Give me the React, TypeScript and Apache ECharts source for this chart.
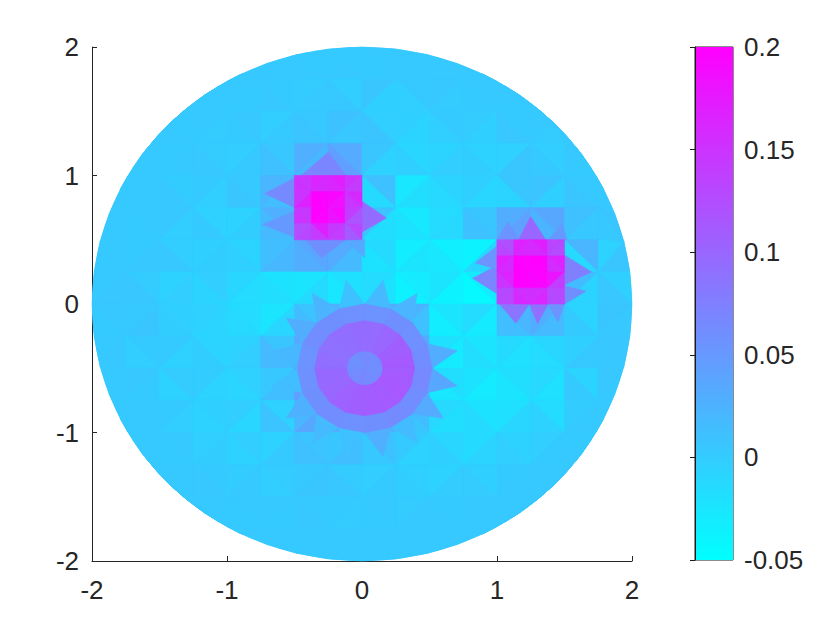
import React, { useEffect, useRef } from "react";
import * as echarts from "echarts";

const axisTicks = [-2, -1, 0, 1, 2];
const colorbarRange = [-0.05, 0.2];
const colorStops = ["#00ffff", "#ff00ff"];
const diskValue = 0.003;

// Coarse mesh: thousandths, two triangles per 0.25 x 0.25 cell, rows from y=2 downwards, cols from x=-2.
const meshRows = [
  [3,3,3,3,3,3,3,3,3,3,3,3,2,3,2,3,3,2,3,3,3,3,3,3,3,3,3,3,3,3,3,3],
  [3,3,3,3,3,3,3,3,3,2,2,4,1,3,-2,4,6,-4,3,-3,4,1,3,2,3,2,3,3,3,3,3,3],
  [3,3,3,3,2,3,3,1,4,2,-2,3,4,7,10,5,-3,7,-4,-8,2,-3,1,-4,2,5,3,1,3,3,3,3],
  [3,3,3,3,2,3,1,4,-2,3,5,12,28,20,32,44,6,-6,-10,-4,-8,-2,-6,-1,-5,6,-2,3,4,2,3,3],
  [3,3,3,3,0,4,2,-3,3,6,22,15,45,45,45,45,12,-14,-26,-18,-8,-12,-4,-10,6,-8,8,-4,3,6,3,3],
  [3,3,3,2,4,-2,-5,2,-6,-1,28,18,45,45,45,45,8,-18,-28,-22,-16,-12,6,10,30,42,36,24,12,4,7,4],
  [3,3,2,4,-2,4,-4,-1,-8,-4,14,20,38,30,32,18,-14,-22,-32,-24,-34,-26,-38,-10,45,45,45,45,22,-12,-6,6],
  [3,5,1,5,-6,-2,-2,-8,-10,-16,-22,-18,-24,-14,-20,-26,-16,-22,-30,-36,-24,-38,-30,-44,45,45,45,45,16,-8,-4,5],
  [4,2,3,6,-4,-1,-5,-8,-16,-12,-24,-10,8,16,28,22,30,26,24,12,-24,-32,-16,-30,22,14,30,18,-8,2,6,4],
  [3,4,2,-2,2,-5,-8,-1,-6,-2,6,18,35,40,45,45,45,45,32,16,-20,-30,-24,-18,-14,-20,-10,-16,-4,3,5,4],
  [3,3,4,2,1,-6,0,-7,-5,-9,4,14,36,45,45,45,45,45,24,18,-18,-26,-22,-30,-18,-24,-12,-20,-8,2,5,3],
  [3,3,3,3,2,-2,-4,-6,-2,-10,-5,8,22,36,42,30,38,28,14,6,-12,-18,-22,-14,-20,-10,-16,-6,0,3,3,3],
  [3,3,3,3,3,2,-3,0,-2,-6,-6,2,8,12,6,14,10,4,2,-6,-10,-4,-14,-8,-6,-3,-2,2,2,3,3,3],
  [3,3,3,3,3,3,2,4,0,3,1,-2,3,6,1,5,-2,2,-4,-1,-6,0,-4,1,2,3,3,3,3,3,3,3],
  [3,3,3,3,3,3,3,3,3,2,3,2,3,4,2,1,3,2,1,3,2,3,3,3,3,3,3,3,3,3,3,3],
  [3,3,3,3,3,3,3,3,3,3,3,3,3,3,3,3,3,3,3,3,3,3,3,3,3,3,3,3,3,3,3,3],
];

// Fine squares: thousandths, two triangles per 0.125 cell, rows from the top.
const squareOneOrigin = [-0.5, 1];
const squareOneRows = [
  [148, 152, 165, 160, 170, 165, 150, 142],
  [150, 168, 196, 200, 195, 185, 160, 148],
  [145, 150, 200, 198, 190, 182, 140, 118],
  [125, 130, 170, 142, 145, 140, 130, 112],
];
const squareTwoOrigin = [1, 0.5];
const squareTwoRows = [
  [122, 130, 168, 162, 170, 160, 132, 126],
  [168, 160, 198, 200, 200, 198, 168, 158],
  [165, 150, 200, 200, 198, 196, 180, 140],
  [128, 130, 155, 160, 155, 162, 130, 128],
];

// Spikes of the two squares: x1, y1, x2, y2, x3, y3, value.
const spikeTriangles = [
  [-0.5, 0.98, -0.72, 0.86, -0.5, 0.75, 0.065],
  [-0.5, 0.72, -0.74, 0.62, -0.5, 0.52, 0.05],
  [0, 0.8, 0.18, 0.67, 0, 0.56, 0.095],
  [-0.45, 1, -0.25, 1.18, -0.12, 1, 0.07],
  [-0.42, 0.5, -0.3, 0.36, -0.12, 0.5, 0.06],
  [-0.12, 0.5, 0.02, 0.36, 0.02, 0.5, 0.035],
  [1, 0.3, 0.82, 0.2, 1, 0.08, 0.07],
  [1, 0.45, 0.84, 0.32, 1, 0.27, 0.055],
  [1.5, 0.38, 1.7, 0.25, 1.5, 0.15, 0.075],
  [1.5, 0.14, 1.66, 0.1, 1.5, 0, 0.06],
  [1.16, 0.5, 1.25, 0.68, 1.36, 0.5, 0.1],
  [1, 0.5, 1.08, 0.64, 1.16, 0.5, 0.055],
  [1.38, 0.5, 1.48, 0.62, 1.52, 0.5, 0.05],
  [1.02, 0, 1.14, -0.15, 1.24, 0, 0.085],
  [1.24, 0, 1.3, -0.15, 1.38, 0, 0.09],
  [1.38, 0, 1.45, -0.14, 1.5, 0, 0.055],
];

// Round inclusion, 16 sectors around its centre.
const blobCentre = [0.02, -0.5];
const blobRadii = [0.13, 0.37, 0.5, 0.7];
const blobCore = [62, 60, 64, 66, 64, 60, 58, 60, 62, 64, 66, 68, 66, 64, 62, 60];
const blobInner = [112, 108, 100, 96, 94, 92, 90, 92, 98, 100, 104, 108, 110, 112, 114, 112];
const blobOuter = [62, 58, 60, 56, 58, 60, 62, 56, 58, 60, 62, 58, 60, 64, 62, 66];
const blobSpikes = [30, 0, 22, 18, 10, 24, 30, 20, 14, 26, 18, 12, 28, 16, 32, 36];

const toDisk = (x: number, y: number) => {
  const r = Math.hypot(x, y);
  return r > 2 ? [(x / r) * 2, (y / r) * 2] : [x, y];
};

const triangle = (a: number[], b: number[], c: number[], v: number) => [
  ...toDisk(a[0], a[1]),
  ...toDisk(b[0], b[1]),
  ...toDisk(c[0], c[1]),
  v,
];

const cellTriangles = (
  rows: number[][],
  x0: number,
  y0: number,
  step: number,
  out: number[][],
) => {
  rows.forEach((row, r) => {
    for (let c = 0; c < row.length / 2; c++) {
      const l = x0 + c * step;
      const t = y0 - r * step;
      const TL = [l, t];
      const TR = [l + step, t];
      const BL = [l, t - step];
      const BR = [l + step, t - step];
      if ((r + c) % 2 === 0) {
        out.push(triangle(TL, TR, BR, row[2 * c] / 1000));
        out.push(triangle(TL, BR, BL, row[2 * c + 1] / 1000));
      } else {
        out.push(triangle(TL, TR, BL, row[2 * c] / 1000));
        out.push(triangle(TR, BR, BL, row[2 * c + 1] / 1000));
      }
    }
  });
};

const blobTriangles = (out: number[][]) => {
  const n = blobInner.length;
  const at = (k: number, r: number) => {
    const a = (k / n) * Math.PI * 2;
    return [blobCentre[0] + r * Math.cos(a), blobCentre[1] + r * Math.sin(a)];
  };
  for (let k = 0; k < n; k++) {
    const [r0, r1, r2, r3] = blobRadii;
    if (blobSpikes[k] > 0) out.push(triangle(at(k, r2), at(k + 0.5, r3), at(k + 1, r2), blobSpikes[k] / 1000));
    out.push(triangle(at(k, r1), at(k + 1, r1), at(k + 1, r2), blobOuter[k] / 1000));
    out.push(triangle(at(k, r1), at(k + 1, r2), at(k, r2), blobOuter[k] / 1000));
    out.push(triangle(at(k, r0), at(k + 1, r0), at(k + 1, r1), blobInner[k] / 1000));
    out.push(triangle(at(k, r0), at(k + 1, r1), at(k, r1), blobInner[k] / 1000));
    out.push(triangle(blobCentre, at(k, r0), at(k + 1, r0), blobCore[k] / 1000));
  }
};

const buildMesh = () => {
  const out: number[][] = [];
  cellTriangles(meshRows, -2, 2, 0.25, out);
  blobTriangles(out);
  spikeTriangles.forEach((t) => out.push(t));
  cellTriangles(squareOneRows, squareOneOrigin[0], squareOneOrigin[1], 0.125, out);
  cellTriangles(squareTwoRows, squareTwoOrigin[0], squareTwoOrigin[1], 0.125, out);
  return out;
};

const textColor = "#262626";
const font = "Liberation Sans";

const App = () => {
  const ref = useRef<HTMLDivElement>(null);
  useEffect(() => {
    const chart = echarts.init(ref.current!, null, { renderer: "svg" });
    const mainAxis = (name: "x" | "y") => ({
      type: "value",
      min: -2,
      max: 2,
      interval: 1,
      gridIndex: 0,
      axisLine: { show: true, onZero: false, lineStyle: { color: textColor, width: 1 } },
      axisTick: { show: true, inside: true, length: 5, lineStyle: { color: textColor, width: 1 } },
      splitLine: { show: false },
      axisLabel: {
        color: textColor,
        fontFamily: font,
        fontSize: 26,
        margin: name === "x" ? 16 : 13,
        formatter: (v: number) => (axisTicks.includes(v) ? String(v) : ""),
        hideOverlap: false,
      },
    });
    chart.setOption({
      animation: false,
      backgroundColor: "#ffffff",
      grid: [
        { left: 92, top: 47, width: 540, height: 514 },
        { left: 695, top: 47, width: 38, height: 513, show: true, borderColor: "#1a1a1a", borderWidth: 1, backgroundColor: "transparent" },
      ],
      xAxis: [
        { ...mainAxis("x"), position: "bottom" },
        { type: "value", gridIndex: 1, min: 0, max: 1, show: false },
      ],
      yAxis: [
        { ...mainAxis("y"), position: "left" },
        {
          type: "value",
          gridIndex: 1,
          min: colorbarRange[0],
          max: colorbarRange[1],
          interval: 0.05,
          position: "right",
          z: 10,
          axisLine: { show: true, lineStyle: { color: "#1a1a1a", width: 1 } },
          axisTick: { show: true, inside: true, length: 5, lineStyle: { color: "#1a1a1a", width: 1 } },
          splitLine: { show: false },
          axisLabel: {
            color: textColor,
            fontFamily: font,
            fontSize: 26,
            margin: 11,
            formatter: (v: number) => String(Math.round(v * 100) / 100),
          },
        },
      ],
      visualMap: {
        show: false,
        type: "continuous",
        seriesIndex: 1,
        dimension: 6,
        min: colorbarRange[0],
        max: colorbarRange[1],
        inRange: { color: colorStops },
      },
      series: [
        {
          type: "custom",
          xAxisIndex: 0,
          yAxisIndex: 0,
          silent: true,
          clip: false,
          data: [[0, 0, 2, diskValue]],
          renderItem: (_: any, api: any) => {
            const c = api.coord([api.value(0), api.value(1)]);
            const s = api.size([api.value(2), api.value(2)]);
            const t = (api.value(3) - colorbarRange[0]) / (colorbarRange[1] - colorbarRange[0]);
            const col = `rgb(${Math.round(255 * t)},${Math.round(255 * (1 - t))},255)`;
            return { type: "ellipse", shape: { cx: c[0], cy: c[1], rx: s[0], ry: s[1] }, style: { fill: col } };
          },
        },
        {
          type: "custom",
          xAxisIndex: 0,
          yAxisIndex: 0,
          silent: true,
          clip: false,
          encode: { x: [0, 2, 4], y: [1, 3, 5] },
          data: buildMesh(),
          renderItem: (_: any, api: any) => {
            const fill = api.visual("color");
            return {
              type: "polygon",
              shape: {
                points: [
                  api.coord([api.value(0), api.value(1)]),
                  api.coord([api.value(2), api.value(3)]),
                  api.coord([api.value(4), api.value(5)]),
                ],
              },
              style: { fill, stroke: fill, lineWidth: 0.6 },
            };
          },
        },
        {
          type: "custom",
          xAxisIndex: 1,
          yAxisIndex: 1,
          silent: true,
          data: [[0, colorbarRange[1], 1, colorbarRange[0]]],
          renderItem: (_: any, api: any) => {
            const a = api.coord([api.value(0), api.value(1)]);
            const b = api.coord([api.value(2), api.value(3)]);
            return {
              type: "rect",
              shape: { x: a[0], y: a[1], width: b[0] - a[0], height: b[1] - a[1] },
              style: {
                fill: new echarts.graphic.LinearGradient(0, 0, 0, 1, [
                  { offset: 0, color: colorStops[1] },
                  { offset: 1, color: colorStops[0] },
                ]),
              },
            };
          },
        },
      ],
    });
    return () => chart.dispose();
  }, []);
  return <div ref={ref} style={{ position: "fixed", left: 0, top: 0, width: 840, height: 630 }} />;
};

export default App;
